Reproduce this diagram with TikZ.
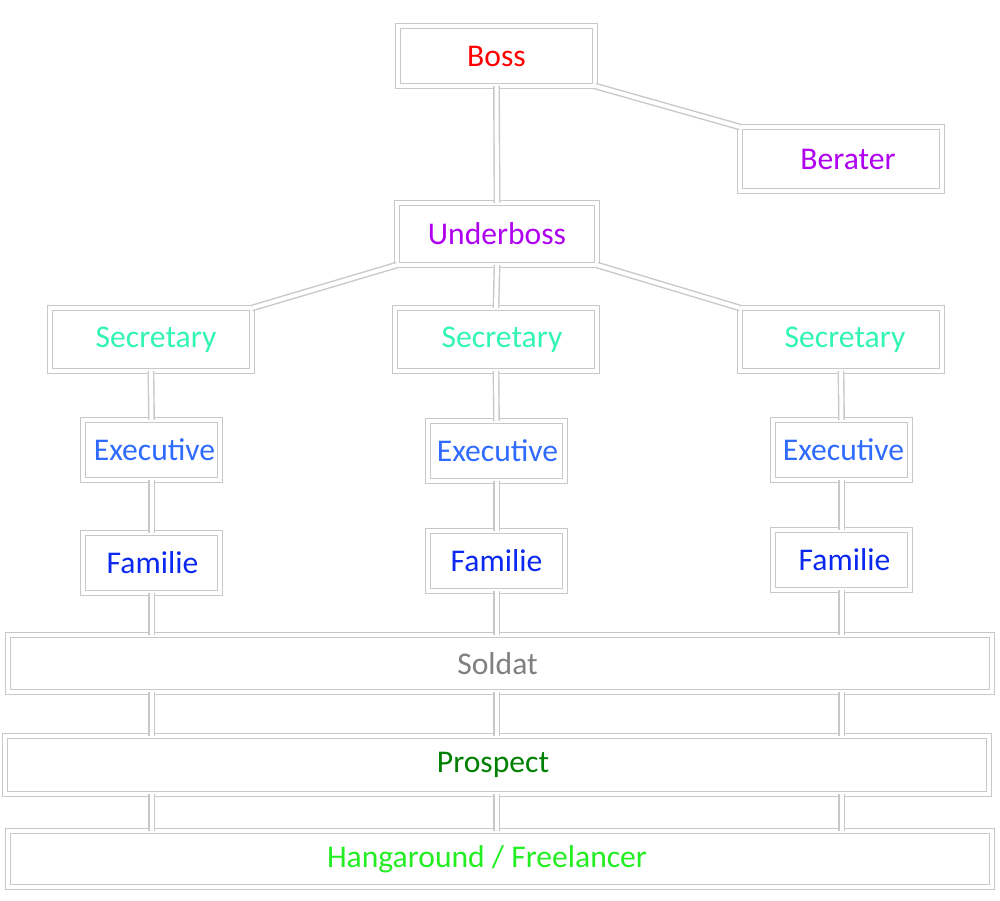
\documentclass[tikz,border=0pt]{standalone}
\usepackage{fontspec}
\setmainfont{Carlito}
\usepackage{tikz}

\definecolor{bossred}{RGB}{255,0,0}
\definecolor{violetc}{RGB}{176,0,240}
\definecolor{secgreen}{RGB}{50,245,181}
\definecolor{exeblue}{RGB}{47,107,255}
\definecolor{famblue}{RGB}{10,40,240}
\definecolor{soldgray}{RGB}{128,128,128}
\definecolor{prosgreen}{RGB}{0,128,0}
\definecolor{hangagreen}{RGB}{34,238,34}
\definecolor{rimgray}{RGB}{200,200,200}

\begin{document}
\begin{tikzpicture}[x=0.5pt, y=-0.5pt,
    box/.style={draw=rimgray, double=white, double distance=2pt, line width=0.7pt,
        fill=white, inner sep=0pt, outer sep=0pt,
        font=\fontsize{15.8}{19}\selectfont},
    link/.style={draw=rimgray, double=white, double distance=2pt, line width=0.7pt}]
    \useasboundingbox (0,0) rectangle (1000,900);

    \node[box, text=bossred, minimum width=98.5pt, minimum height=30pt] (boss) at (496.5,56) {Boss};
    \node[box, text=violetc, minimum width=101pt, minimum height=32pt] (berater) at (841,159) {\hspace{7pt}Berater};
    \node[box, text=violetc, minimum width=100pt, minimum height=31pt] (uboss) at (497,234) {Underboss};

    \node[box, text=secgreen, minimum width=101pt, minimum height=31.5pt] (sec1) at (151,339.5) {\hspace{5pt}Secretary};
    \node[box, text=secgreen, minimum width=101pt, minimum height=31.5pt] (sec2) at (496,339.5) {\hspace{6pt}Secretary};
    \node[box, text=secgreen, minimum width=101pt, minimum height=31.5pt] (sec3) at (841,339.5) {\hspace{4pt}Secretary};

    \node[box, text=exeblue, minimum width=68.5pt, minimum height=30pt] (exe1) at (151.5,450) {\hspace{3pt}Executive};
    \node[box, text=exeblue, minimum width=68.5pt, minimum height=30pt] (exe2) at (496.5,451) {\hspace{1pt}Executive};
    \node[box, text=exeblue, minimum width=68.5pt, minimum height=30pt] (exe3) at (841.5,450) {\hspace{2pt}Executive};

    \node[box, text=famblue, minimum width=68.5pt, minimum height=30pt] (fam1) at (151.5,563) {\hspace{1pt}Familie};
    \node[box, text=famblue, minimum width=68.5pt, minimum height=30pt] (fam2) at (496.5,561) {Familie};
    \node[box, text=famblue, minimum width=68.5pt, minimum height=30pt] (fam3) at (841.5,560) {\hspace{3pt}Familie};

    \node[box, text=soldgray, minimum width=492pt, minimum height=28.5pt] (soldat) at (500,663.5) {\hspace{-2.5pt}Soldat};
    \node[box, text=prosgreen, minimum width=492pt, minimum height=29pt] (prospect) at (497,765) {\hspace{-4pt}Prospect};
    \node[box, text=hangagreen, minimum width=492pt, minimum height=28pt] (hanga) at (500,859) {\hspace{-13pt}Hangaround / Freelancer};

    % top of the tree
    \draw[link] (boss.south) -- (uboss.north);
    \draw[link] (boss.south east) -- (berater.north west);
    \draw[link] (uboss.south west) -- (sec1.north east);
    \draw[link] (uboss.south) -- (sec2.north);
    \draw[link] (uboss.south east) -- (sec3.north west);

    % the three columns
    \draw[link] (sec1.south) -- (exe1.north);
    \draw[link] (sec2.south) -- (exe2.north);
    \draw[link] (sec3.south) -- (exe3.north);
    \draw[link] (exe1.south) -- (fam1.north);
    \draw[link] (exe2.south) -- (fam2.north);
    \draw[link] (exe3.south) -- (fam3.north);
    \draw[link] (fam1.south) -- (fam1.south |- soldat.north);
    \draw[link] (fam2.south) -- (fam2.south |- soldat.north);
    \draw[link] (fam3.south) -- (fam3.south |- soldat.north);

    % bands
    \draw[link] (fam1 |- soldat.south) -- (fam1 |- prospect.north);
    \draw[link] (fam2 |- soldat.south) -- (fam2 |- prospect.north);
    \draw[link] (fam3 |- soldat.south) -- (fam3 |- prospect.north);
    \draw[link] (fam1 |- prospect.south) -- (fam1 |- hanga.north);
    \draw[link] (fam2 |- prospect.south) -- (fam2 |- hanga.north);
    \draw[link] (fam3 |- prospect.south) -- (fam3 |- hanga.north);
\end{tikzpicture}
\end{document}
